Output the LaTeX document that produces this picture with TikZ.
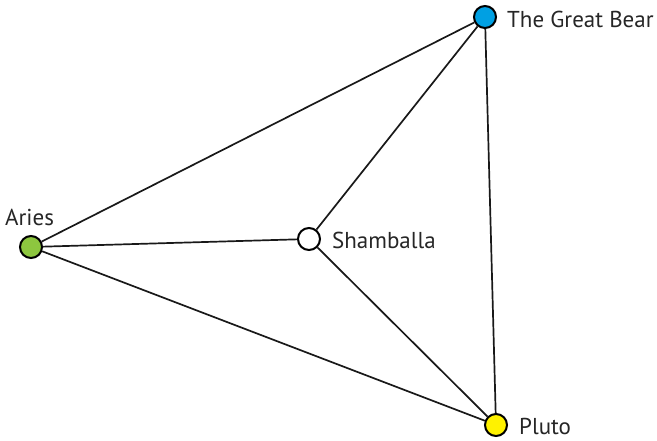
\documentclass[tikz,border=0pt]{standalone}
\usepackage{fontspec}
\setmainfont{PT Sans}
\definecolor{gbblue}{RGB}{0,160,227}
\definecolor{argreen}{RGB}{141,198,63}
\definecolor{plyellow}{RGB}{255,242,0}
\begin{document}
\begin{tikzpicture}[x=1pt,y=-1pt,
  dot/.style={circle,draw=black,line width=2pt,minimum size=22pt,inner sep=0pt},
  lbl/.style={anchor=base west,inner sep=0pt,font=\fontsize{23}{27}\selectfont,text=black!85},
  edge/.style={line width=1.7pt,black!90}]
\useasboundingbox (0,0) rectangle (657,440);
\node[dot,fill=gbblue] (gb) at (485,17) {};
\node[dot,fill=argreen] (ar) at (31,247) {};
\node[dot,fill=white] (sh) at (309,239) {};
\node[dot,fill=plyellow] (pl) at (496,425) {};
\draw[edge] (ar) -- (gb);
\draw[edge] (ar) -- (sh);
\draw[edge] (ar) -- (pl);
\draw[edge] (sh) -- (gb);
\draw[edge] (sh) -- (pl);
\draw[edge] (gb) -- (pl);
\node[lbl] (tgb) at (507,27) {The Great Bear};
\node[lbl] (tar) at (5,225) {Aries};
\node[lbl] (tsh) at (332,248) {Shamballa};
\node[lbl] (tpl) at (519,434) {Pluto};
\end{tikzpicture}
\end{document}
